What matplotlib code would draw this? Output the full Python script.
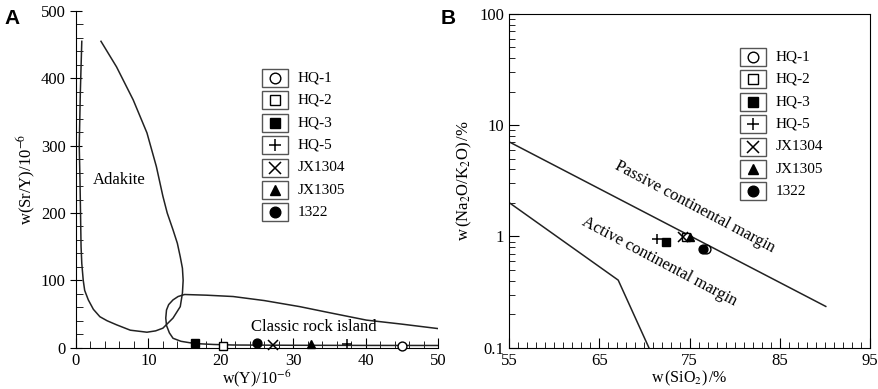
import numpy as np
import matplotlib
matplotlib.use("Agg")
import matplotlib.pyplot as plt
from matplotlib.patches import Rectangle
from matplotlib.ticker import MultipleLocator, LogLocator, NullFormatter, FixedLocator

plt.rcParams['font.family'] = ['Liberation Serif', 'DejaVu Serif']
plt.rcParams['mathtext.fontset'] = 'stix'

# samples and legend
samples = ["HQ-1", "HQ-2", "HQ-3", "HQ-5", "JX1304", "JX1305", "1322"]
markers = ["o", "s", "s", "+", "x", "^", "o"]
filled = [False, False, True, False, False, True, True]

# panel A: Y vs Sr/Y
a_y = [45.0, 20.3, 16.4, 37.4, 27.2, 32.5, 25.0]
a_sry = [3.0, 3.0, 6.5, 5.0, 4.0, 6.0, 6.5]

# adakite field boundary
adakite_x = [3.45, 5.6, 7.9, 9.8, 11.1, 12.0, 12.6, 13.4, 14.0, 14.4, 14.7, 14.8,
             14.7, 14.4, 13.4, 12.0, 11.0, 9.8, 7.5, 5.6, 4.3, 3.3, 2.4, 1.7, 1.2,
             1.0, 0.8, 0.7, 0.55, 0.45, 0.6, 0.8]
adakite_sry = [455, 417, 368, 319, 269, 225, 200, 175, 155, 135, 118, 100,
               81, 61, 44, 29, 25, 23, 26, 34, 40, 46, 57, 71, 85,
               100, 125, 150, 249, 300, 380, 455]

# classic island arc field boundary
classic_x = [50.3, 45.0, 40.1, 35.0, 30.9, 26.0, 21.7, 18.0, 15.0, 14.1, 13.4, 12.8,
             12.5, 12.4, 12.5, 12.9, 13.4, 14.5, 15.7, 16.7, 19.0, 21.7, 30, 40, 50]
classic_sry = [28, 35, 41, 52, 61, 70, 76, 78, 79, 76, 71, 64,
               56, 44, 33, 22, 14, 9.5, 7.4, 6.0, 4.8, 4.0, 3.6, 3.4, 3.3]

# panel B: SiO2 vs Na2O/K2O
b_sio2 = [76.8, 74.6, 72.4, 71.4, 74.3, 75.1, 76.5]
b_ratio = [0.77, 0.98, 0.885, 0.95, 0.98, 0.98, 0.77]

passive_x = [55, 90.1]
passive_y = [7.1, 0.235]
active_x = [55, 67.1, 70.5]
active_y = [2.02, 0.405, 0.1]

W, H = 879, 389
fig = plt.figure(figsize=(W / 100, H / 100), dpi=100)


def fx(px):
    return px / W


def fy(py):
    return 1 - py / H


def draw_marker(ax, x, y, m, f, size, **kw):
    if m in ("+", "x"):
        ax.plot(x, y, marker=m, color="black", markersize=size, markeredgewidth=1.1,
                linestyle="none", **kw)
    else:
        ax.plot(x, y, marker=m, markerfacecolor="black" if f else "white",
                markeredgecolor="black", markersize=size * 0.85, markeredgewidth=1.0,
                linestyle="none", **kw)


def draw_legend(box_left, first_row, pitch):
    lax = fig.add_axes([0, 0, 1, 1], facecolor="none")
    lax.set_xlim(0, W)
    lax.set_ylim(H, 0)
    lax.axis("off")
    for i, (name, m, f) in enumerate(zip(samples, markers, filled)):
        cy = first_row + i * pitch
        lax.add_patch(Rectangle((box_left, cy - 9), 26, 18, fill=False,
                                edgecolor="#555555", linewidth=1.0))
        draw_marker(lax, box_left + 13, cy, m, f, 9)
        lax.text(box_left + 36, cy, name, fontsize=11, va="center", ha="left")


# ---------------- panel A ----------------
axA = fig.add_axes([fx(76), fy(347.7), fx(438 - 76), (347.7 - 11) / H])
axA.plot(adakite_x, adakite_sry, color="#222222", lw=1.1)
axA.plot(classic_x, classic_sry, color="#222222", lw=1.1)
for x, y, m, f in zip(a_y, a_sry, markers, filled):
    draw_marker(axA, x, y, m, f, 7.5, clip_on=False, zorder=5)
axA.set_xlim(0, 50)
axA.set_ylim(0, 500)
axA.spines["top"].set_visible(False)
axA.spines["right"].set_visible(False)
axA.xaxis.set_major_locator(MultipleLocator(10))
axA.xaxis.set_minor_locator(MultipleLocator(2))
axA.yaxis.set_major_locator(MultipleLocator(100))
axA.yaxis.set_minor_locator(MultipleLocator(20))
axA.tick_params(which="both", direction="in", labelsize=12)
axA.tick_params(axis="y", which="major", direction="inout", length=8)
axA.tick_params(which="minor", length=5)
axA.tick_params(axis="x", which="major", length=7)
axA.set_xlabel(r"w(Y)/10$^{-6}$", fontsize=11.5, labelpad=0)
axA.set_ylabel(r"w(Sr/Y)/10$^{-6}$", fontsize=12, labelpad=2)
axA.text(6.0, 249, "Adakite", fontsize=12, ha="center", va="center")
axA.text(32.9, 31, "Classic rock island", fontsize=12, ha="center", va="center")
fig.text(fx(4), fy(19), "A", fontsize=15, fontweight="bold",
         family="Liberation Sans", va="center")

# ---------------- panel B ----------------
axB = fig.add_axes([fx(509), fy(347.7), fx(870 - 509), (347.7 - 14) / H])
axB.plot(passive_x, passive_y, color="#222222", lw=1.1)
axB.plot(active_x, active_y, color="#222222", lw=1.1)
for x, y, m, f in zip(b_sio2, b_ratio, markers, filled):
    draw_marker(axB, x, y, m, f, 7.5, zorder=5)
axB.set_yscale("log")
axB.set_xlim(55, 95)
axB.set_ylim(0.1, 100)
axB.xaxis.set_major_locator(FixedLocator([55, 65, 75, 85, 95]))
axB.xaxis.set_minor_locator(MultipleLocator(1))
axB.yaxis.set_major_locator(FixedLocator([0.1, 1, 10, 100]))
axB.yaxis.set_minor_locator(LogLocator(base=10, subs=np.arange(2, 10)))
axB.yaxis.set_minor_formatter(NullFormatter())
axB.set_yticklabels(["0.1", "1", "10", "100"])
axB.tick_params(which="both", direction="in", labelsize=12)
axB.tick_params(which="major", length=7)
axB.tick_params(which="minor", length=4)
axB.set_xlabel(r"w$\,$(SiO$_2$)$\,$/%", fontsize=11.5, labelpad=0)
axB.set_ylabel(r"w$\,$(Na$_2$O/K$_2$O)$\,$/%", fontsize=12, labelpad=4)
axB.text(75.6, 1.85, "Passive continental margin", fontsize=12, rotation=-28,
         ha="center", va="center", rotation_mode="anchor")
axB.text(71.7, 0.59, "Active continental margin", fontsize=12, rotation=-28,
         ha="center", va="center", rotation_mode="anchor")
fig.text(fx(441), fy(19), "B", fontsize=15, fontweight="bold",
         family="Liberation Sans", va="center")

draw_legend(262, 78, 22.4)
draw_legend(740, 57, 22.4)

fig.savefig("out.png", dpi=100)
